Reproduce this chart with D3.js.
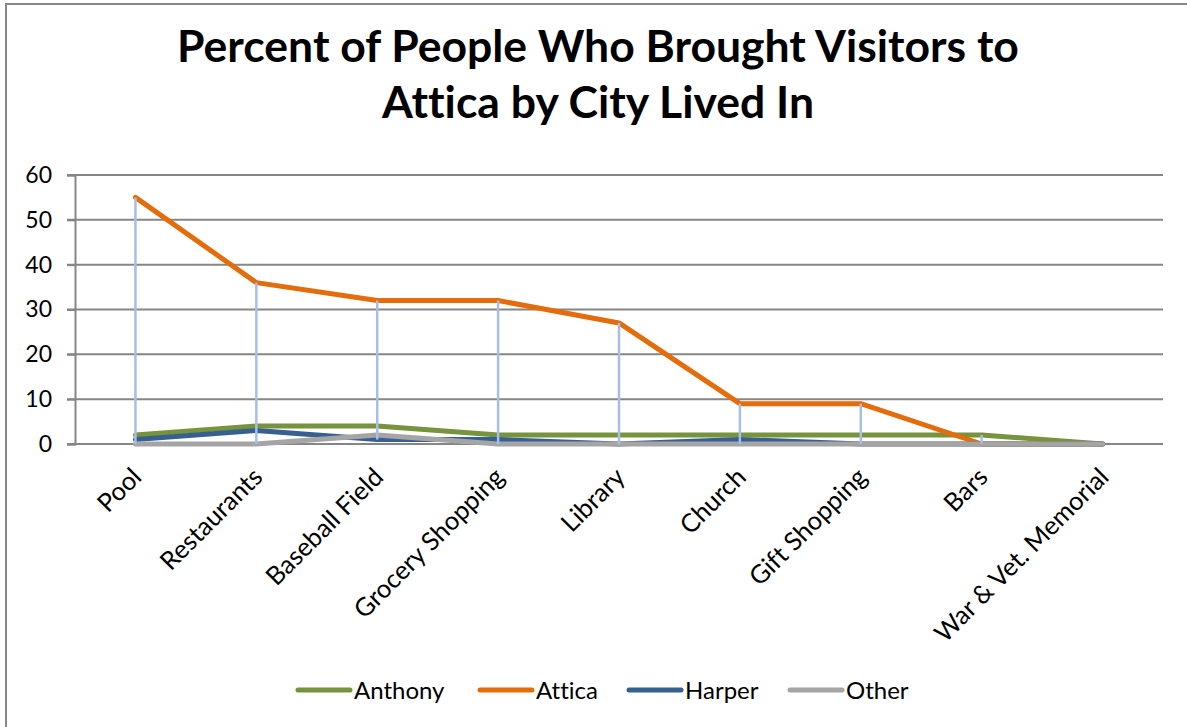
<!DOCTYPE html>
<html>
<head>
<meta charset="utf-8">
<script src="https://cdn.jsdelivr.net/npm/d3@7"></script>
<style>
  html, body { margin: 0; padding: 0; background: #ffffff; }
  svg { display: block; }
  text { font-family: Lato, "Open Sans", sans-serif; fill: #000; font-variant-ligatures: none; }
</style>
</head>
<body>
<svg id="chart" width="1187" height="727"></svg>
<script>
// Places visitors were brought to
const categories = ["Pool", "Restaurants", "Baseball Field", "Grocery Shopping", "Library",
  "Church", "Gift Shopping", "Bars", "War & Vet. Memorial"];

// Percent of respondents, by city lived in
const anthony = [2, 4, 4, 2, 2, 2, 2, 2, 0];
const attica  = [55, 36, 32, 32, 27, 9, 9, 0, 0];
const harper  = [1, 3, 1, 1, 0, 1, 0, 0, 0];
const other   = [0, 0, 2, 0, 0, 0, 0, 0, 0];

const seriesNames = ["Anthony", "Attica", "Harper", "Other"];
const yTicks = [0, 10, 20, 30, 40, 50, 60];

const seriesColors = ["#77933c", "#e46c0a", "#376092", "#a5a5a5"];
const series = [anthony, attica, harper, other].map((vals, i) => ({
  name: seriesNames[i], values: vals, color: seriesColors[i]
}));

const svg = d3.select("#chart");

// Chart area frame
svg.append("rect")
  .attr("x", 6).attr("y", 4)
  .attr("width", 1200).attr("height", 760)
  .attr("fill", "#fff").attr("stroke", "#878787").attr("stroke-width", 2);

// Title
const title = svg.append("text")
  .attr("text-anchor", "middle")
  .attr("font-weight", 700)
  .attr("font-size", 44.5);
title.append("tspan").attr("x", 598).attr("y", 62).text("Percent of People Who Brought Visitors to");
title.append("tspan").attr("x", 598).attr("y", 118).text("Attica by City Lived In");

// Scales
const x = d3.scaleBand().domain(categories).range([75, 1163]);
const cx = d => x(d) + x.bandwidth() / 2;
const y = d3.scaleLinear().domain([0, 60]).range([444, 175]);

// Horizontal gridlines
svg.append("g")
  .selectAll("line")
  .data(yTicks)
  .join("line")
  .attr("x1", 67).attr("x2", 1163)
  .attr("y1", d => y(d)).attr("y2", d => y(d))
  .attr("stroke", "#868686").attr("stroke-width", 2);

// Value axis
const yAxis = svg.append("g")
  .attr("transform", "translate(75,0)")
  .call(d3.axisLeft(y).tickValues(yTicks).tickSize(8).tickPadding(15));
yAxis.select(".domain").attr("stroke", "#868686").attr("stroke-width", 2);
yAxis.selectAll(".tick line").attr("stroke", "#868686").attr("stroke-width", 2);
yAxis.selectAll(".tick text")
  .attr("font-family", "Lato, 'Open Sans', sans-serif")
  .attr("font-size", 23).attr("fill", "#000");

// Category labels, rotated
svg.append("g")
  .selectAll("text")
  .data(categories)
  .join("text")
  .attr("transform", d => `translate(${cx(d) - 5},${466}) rotate(-45)`)
  .attr("text-anchor", "end")
  .attr("dy", "0.7em")
  .attr("font-size", 25.5)
  .text(d => d);

// Series lines
const line = d3.line()
  .x((v, i) => cx(categories[i]))
  .y(v => y(v));

svg.append("g")
  .selectAll("path")
  .data(series)
  .join("path")
  .attr("d", s => line(s.values))
  .attr("fill", "none")
  .attr("stroke", s => s.color)
  .attr("stroke-width", 5)
  .attr("stroke-linejoin", "round")
  .attr("stroke-linecap", "round");

// High-low drop lines across the series at each category
const ranges = categories.map((c, i) => {
  const vals = series.map(s => s.values[i]);
  return { c, hi: d3.max(vals), lo: d3.min(vals) };
});
svg.append("g")
  .selectAll("line")
  .data(ranges.filter(r => r.hi > r.lo))
  .join("line")
  .attr("x1", r => cx(r.c)).attr("x2", r => cx(r.c))
  .attr("y1", r => y(r.hi)).attr("y2", r => y(r.lo))
  .attr("stroke", "#a7bfe6").attr("stroke-width", 2.5);

// Legend
const legendX = [296, 478, 627, 788];
const legend = svg.append("g")
  .selectAll("g")
  .data(series)
  .join("g")
  .attr("transform", (s, i) => `translate(${legendX[i]},690)`);
legend.append("line")
  .attr("x1", 2).attr("x2", 54)
  .attr("stroke", s => s.color).attr("stroke-width", 5)
  .attr("stroke-linecap", "round");
legend.append("text")
  .attr("x", 58).attr("y", 8.5)
  .attr("font-size", 24)
  .text(s => s.name);
</script>
</body>
</html>
